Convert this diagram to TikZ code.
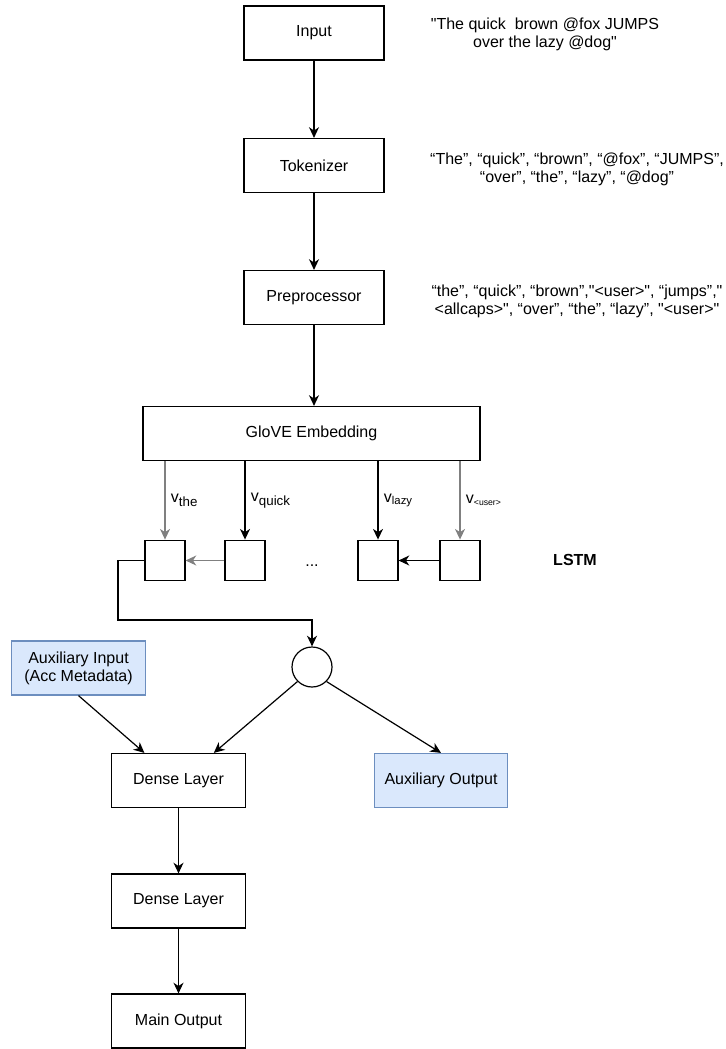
\documentclass[tikz,border=0pt]{standalone}
\usepackage{fontspec}
\setmainfont{Liberation Sans}
\usepackage{xcolor}
\usetikzlibrary{arrows.meta, positioning}
\definecolor{auxfill}{HTML}{DAE8FC}
\definecolor{auxline}{HTML}{6C8EBF}
\definecolor{cinzaseta}{HTML}{808080}

\begin{document}
\begin{tikzpicture}[x=0.75pt, y=-0.75pt, >={Stealth[length=8pt,width=7.5pt,inset=2.5pt]},
      line width=0.9pt, font=\fontsize{12}{13.5}\selectfont,
      bloco/.style={draw, minimum width=105pt, minimum height=40.5pt, inner sep=0pt},
      camada/.style={bloco, minimum width=100pt},
      auxbloco/.style={camada, fill=auxfill, draw=auxline, align=center},
      celula/.style={draw, minimum width=30pt, minimum height=30.5pt, inner sep=0pt},
      nota/.style={align=center},
      vsub/.style={right=3pt, inner sep=1pt}]
    \useasboundingbox (0,0) rectangle (725,1049);

    % --- pipeline de texto ---
    \node[bloco] (inp) at (314,33)    {Input};
    \node[bloco] (tok) at (314,165.5) {Tokenizer};
    \node[bloco] (pre) at (314,297.5) {Preprocessor};
    \node[bloco, minimum width=252.75pt] (glove) at (311.5,433.5) {GloVE Embedding};
    \draw[->] (inp) -- (tok);
    \draw[->] (tok) -- (pre);
    \draw[->] (pre.south) -- (pre.south |- glove.north);

    % Exemplos ao lado
    \node[nota] (txtinp) at (545,34)  {\textquotedbl The quick\ \ brown @fox JUMPS\\over the lazy @dog\textquotedbl};
    \node[nota] (txttok) at (577,169) {“The”, “quick”, “brown”, “@fox”, “JUMPS”,\\“over”, “the”, “lazy”, “@dog”};
    \node[nota] (txtpre) at (577,301) {“the”, “quick”, “brown”,\textquotedbl<user>\textquotedbl, “jumps”,\textquotedbl\\<allcaps>\textquotedbl, “over”, “the”, “lazy”, \textquotedbl<user>\textquotedbl};

    % --- celulas LSTM ---
    \node[celula] (c1) at (165,560.5) {};
    \node[celula] (c2) at (245,560.5) {};
    \node[celula] (c3) at (378,560.5) {};
    \node[celula] (c4) at (460,560.5) {};
    \node (dots) at (312,566) {...};
    \node[font=\fontsize{12}{13.5}\selectfont\bfseries] (lstm) at (575,560) {LSTM};

    \draw[->, cinzaseta] (glove.south -| c1) -- node[vsub, black]{v\textsubscript{\fontsize{10}{12}\selectfont the}} (c1.north);
    \draw[->] (glove.south -| c2) -- node[vsub]{v\textsubscript{\fontsize{10}{12}\selectfont quick}} (c2.north);
    \draw[->] (glove.south -| c3) -- node[vsub]{v\textsubscript{\fontsize{8.5}{10}\selectfont lazy}} (c3.north);
    \draw[->, cinzaseta] (glove.south -| c4) -- node[vsub, black]{v\textsubscript{\fontsize{6.5}{8}\selectfont <user>}} (c4.north);
    \draw[->, cinzaseta] (c2) -- (c1);
    \draw[->] (c4) -- (c3);

    % --- saida da LSTM ---
    \node[draw, circle, minimum size=30pt, inner sep=0pt] (circ) at (312,667) {};
    \coordinate (dobra) at (118,620);
    \draw[->] (c1.west) -| (dobra) -| (circ.north);

    \node[auxbloco] (auxin) at (78.5,668) {Auxiliary Input\\(Acc Metadata)};
    \node[camada] (dense1) at (178.5,780.5) {Dense Layer};
    \node[auxbloco] (auxout) at (441,780.5) {Auxiliary Output};
    \node[camada] (dense2) at (178.5,901) {Dense Layer};
    \node[camada] (mainout) at (178.5,1021) {Main Output};

    \draw[->] (auxin.south) -- (dense1.141);
    \draw[->] (circ.225) -- (dense1.38);
    \draw[->] (circ.-45) -- (auxout.north);
    \draw[->] (dense1) -- (dense2);
    \draw[->] (dense2) -- (mainout);
\end{tikzpicture}
\end{document}
